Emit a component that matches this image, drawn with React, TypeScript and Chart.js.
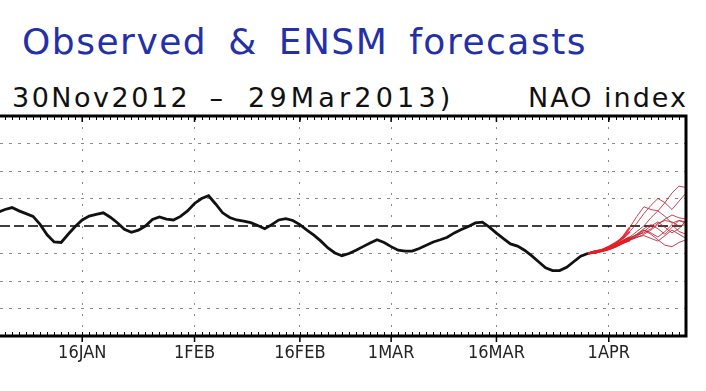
import React, { useEffect, useRef } from "react";
import { Chart, registerables } from "chart.js";
Chart.register(...registerables);

// Day numbers: day 0 = 1 Jan 2013
const xMin = 3.29;
const xMax = 101;
const yMin = -4;
const yMax = 4;

const tickDays = [15, 31, 46, 59, 74, 90];
const tickLabels = ["16JAN", "1FEB", "16FEB", "1MAR", "16MAR", "1APR"];

// observed NAO index, daily from day 3 (4 Jan) to day 87 (29 Mar)
const observedStartDay = 3;
const observed = [
  0.5, 0.6, 0.67, 0.55, 0.45, 0.35, 0.06, -0.32, -0.58, -0.6,
  -0.3, -0.02, 0.22, 0.36, 0.42, 0.48, 0.32, 0.12, -0.12, -0.23,
  -0.15, 0.0, 0.24, 0.33, 0.25, 0.22, 0.35, 0.55, 0.82, 1.0,
  1.1, 0.8, 0.48, 0.31, 0.22, 0.18, 0.12, 0.02, -0.1, 0.05,
  0.22, 0.27, 0.2, 0.05, -0.15, -0.33, -0.55, -0.8, -0.98, -1.08,
  -1.0, -0.88, -0.75, -0.62, -0.5, -0.6, -0.75, -0.88, -0.91, -0.91,
  -0.82, -0.7, -0.58, -0.5, -0.41, -0.25, -0.13, -0.02, 0.11, 0.14,
  -0.04, -0.26, -0.46, -0.65, -0.73, -0.88, -1.08, -1.3, -1.52, -1.62,
  -1.62, -1.5, -1.3, -1.1, -1.0,
];

// ensemble forecast members, daily from day 87 (29 Mar) to day 101 (12 Apr)
const forecastStartDay = 87;
const member1 = [-1.0, -0.95, -0.9, -0.8, -0.65, -0.4, -0.05, 0.35, 0.7, 0.6, 0.55, 0.85, 1.2, 1.45, 1.4];
const member2 = [-1.0, -0.92, -0.88, -0.75, -0.6, -0.45, -0.2, 0.1, 0.45, 0.75, 1.0, 0.85, 0.6, 0.9, 1.2];
const member3 = [-1.0, -0.95, -0.9, -0.82, -0.7, -0.55, -0.4, -0.2, 0.0, 0.3, 0.55, 0.35, 0.1, 0.2, 0.15];
const member4 = [-1.0, -0.97, -0.92, -0.85, -0.75, -0.6, -0.5, -0.35, -0.15, -0.3, -0.5, -0.7, -0.75, -0.6, -0.5];
const member5 = [-1.0, -0.95, -0.88, -0.8, -0.7, -0.55, -0.45, -0.3, -0.1, 0.05, -0.1, -0.3, -0.05, 0.2, 0.1];
const member6 = [-1.0, -0.93, -0.87, -0.78, -0.68, -0.55, -0.42, -0.32, -0.25, -0.1, 0.1, 0.2, 0.15, 0.0, 0.05];
const member7 = [-1.0, -0.96, -0.91, -0.84, -0.74, -0.62, -0.5, -0.4, -0.35, -0.45, -0.55, -0.35, -0.15, -0.3, -0.45];
const member8 = [-1.0, -0.94, -0.89, -0.8, -0.72, -0.58, -0.48, -0.38, -0.2, 0.0, 0.15, -0.05, -0.25, -0.1, 0.2];
const member9 = [-1.0, -0.95, -0.9, -0.83, -0.73, -0.6, -0.52, -0.42, -0.3, -0.15, 0.05, 0.25, 0.4, 0.3, 0.25];
const member10 = [-1.0, -0.96, -0.9, -0.82, -0.72, -0.6, -0.47, -0.3, -0.15, -0.25, -0.4, -0.2, 0.05, -0.2, -0.3];
const members = [member1, member2, member3, member4, member5, member6, member7, member8, member9, member10];

const toPoints = (start: number, vals: number[]) => vals.map((v, i) => ({ x: start + i, y: v }));

const framePlugin = {
  id: "frame",
  afterDraw(chart: any) {
    const { ctx, chartArea } = chart;
    const { left, right, top, bottom } = chartArea;
    const x = chart.scales.x;
    ctx.save();
    ctx.strokeStyle = "#000";
    ctx.lineWidth = 1;
    ctx.beginPath();
    for (let d = Math.ceil(xMin); d <= xMax; d++) {
      const px = Math.round(x.getPixelForValue(d)) + 0.5;
      ctx.moveTo(px, top);
      ctx.lineTo(px, top + 4);
      ctx.moveTo(px, bottom);
      ctx.lineTo(px, bottom - 4);
    }
    ctx.stroke();
    ctx.lineWidth = 1.5;
    ctx.beginPath();
    for (const d of tickDays) {
      const px = x.getPixelForValue(d);
      ctx.moveTo(px, bottom);
      ctx.lineTo(px, bottom + 6);
      ctx.moveTo(px, top);
      ctx.lineTo(px, top + 6);
    }
    ctx.stroke();
    ctx.lineWidth = 3;
    ctx.beginPath();
    ctx.moveTo(left - 5, top);
    ctx.lineTo(right, top);
    ctx.lineTo(right, bottom);
    ctx.lineTo(left - 5, bottom);
    ctx.stroke();
    ctx.restore();
  },
};

export default function App() {
  const ref = useRef<HTMLCanvasElement>(null);
  useEffect(() => {
    if (!ref.current) return;
    const datasets: any[] = [
      {
        data: toPoints(observedStartDay, observed),
        borderColor: "#111",
        borderWidth: 2.8,
        pointRadius: 0,
        tension: 0,
      },
      ...members.map((m) => ({
        data: toPoints(forecastStartDay, m),
        borderColor: "rgba(190,35,50,0.85)",
        borderWidth: 1,
        pointRadius: 0,
        tension: 0,
        segment: {
          borderColor: (c: any) => (c.p0.parsed.x < 93 ? "rgba(228,30,38,0.9)" : "rgba(190,35,50,0.85)"),
          borderWidth: (c: any) => (c.p0.parsed.x < 93 ? 2 : 1),
        },
      })),
      {
        data: [
          { x: xMin, y: 0 },
          { x: xMax, y: 0 },
        ],
        borderColor: "#000",
        borderWidth: 1.5,
        borderDash: [10, 4],
        pointRadius: 0,
      },
    ];
    const chart = new Chart(ref.current, {
      type: "line",
      data: { datasets },
      options: {
        animation: false,
        responsive: false,
        maintainAspectRatio: false,
        layout: { padding: { top: 116, right: 20, left: 0, bottom: 0 } },
        plugins: { legend: { display: false }, tooltip: { enabled: false }, title: { display: false } },
        scales: {
          x: {
            type: "linear",
            min: xMin,
            max: xMax,
            afterBuildTicks: (s: any) => {
              s.ticks = tickDays.map((v) => ({ value: v }));
            },
            afterFit: (s: any) => {
              s.height = 55;
            },
            ticks: {
              autoSkip: false,
              maxRotation: 0,
              padding: 7,
              color: "#222",
              font: { family: "'Liberation Sans Narrow', 'DejaVu Sans Condensed', sans-serif", size: 18 },
              callback: (v: any) => {
                const i = tickDays.indexOf(Number(v));
                return i >= 0 ? tickLabels[i] : "";
              },
            },
            grid: { color: "#8a8a8a", lineWidth: 1, drawTicks: false },
            border: { display: false, dash: [2, 9] },
          },
          y: {
            type: "linear",
            min: yMin,
            max: yMax,
            afterFit: (s: any) => {
              s.width = 0;
            },
            ticks: { display: false, stepSize: 1 },
            grid: {
              drawTicks: false,
              lineWidth: 1,
              color: (c: any) => (c.tick && c.tick.value === 0 ? "rgba(0,0,0,0)" : "#8a8a8a"),
            },
            border: { display: false, dash: [3, 6] },
          },
        },
      },
      plugins: [framePlugin],
    });
    return () => chart.destroy();
  }, []);

  const sub: React.CSSProperties = {
    position: "absolute",
    top: 84,
    fontFamily: "'DejaVu Sans', sans-serif",
    fontSize: 27,
    lineHeight: "27px",
    color: "#111",
    whiteSpace: "pre",
  };

  return (
    <div style={{ position: "absolute", left: 0, top: 0, width: 706, height: 391, background: "#fff", overflow: "hidden" }}>
      <div
        style={{
          position: "absolute",
          left: 22,
          top: 24,
          fontFamily: "'DejaVu Sans', sans-serif",
          fontSize: 36,
          lineHeight: "36px",
          letterSpacing: "1.5px",
          wordSpacing: "8px",
          color: "#2430a8",
          whiteSpace: "pre",
        }}
      >
        Observed &amp; ENSM forecasts
      </div>
      <div style={{ ...sub, left: 12 }}>
        <span style={{ letterSpacing: "2.5px" }}>30Nov2012</span>
        <span style={{ position: "absolute", left: 189, letterSpacing: "0px" }}> – </span>
        <span style={{ position: "absolute", left: 236, letterSpacing: "4.2px" }}>29Mar2013)</span>
      </div>
      <div style={{ ...sub, left: 528, letterSpacing: "2px" }}>NAO index</div>
      <canvas ref={ref} width={706} height={391} style={{ position: "absolute", left: 0, top: 0 }} />
    </div>
  );
}
